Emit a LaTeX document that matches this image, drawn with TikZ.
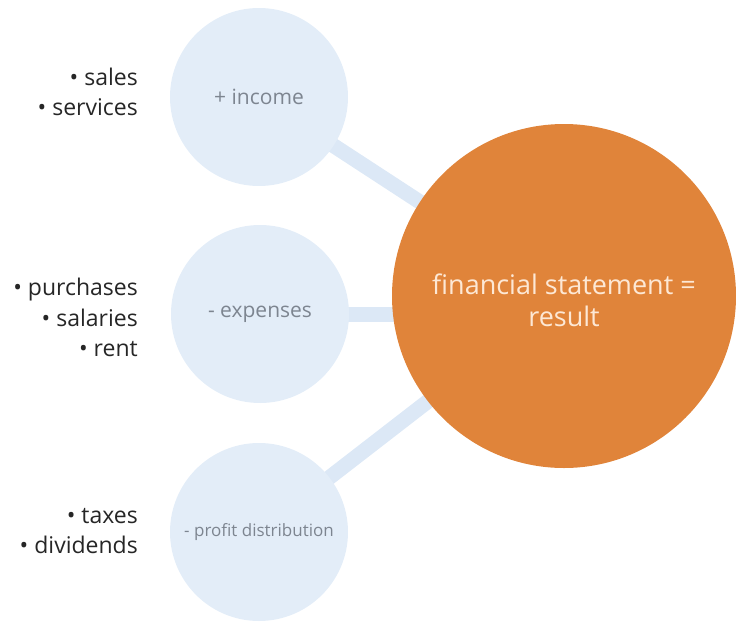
\documentclass[tikz,border=0pt]{standalone}
\usepackage{fontspec}
\setmainfont{Open Sans}
\usetikzlibrary{backgrounds}
\definecolor{paleblue}{HTML}{E3EDF8}
\definecolor{linkblue}{HTML}{DCE8F6}
\definecolor{resultorange}{HTML}{E0843A}
\definecolor{resulttext}{HTML}{FDE8D5}
\definecolor{labelgray}{HTML}{7D8590}
\tikzstyle{part}=[circle,fill=paleblue,minimum size=178pt,inner sep=0pt,text=labelgray]
\tikzstyle{result}=[circle,fill=resultorange,minimum size=344pt,inner sep=0pt,text=resulttext,align=center,font=\fontsize{27}{32}\selectfont]
\tikzstyle{item}=[anchor=base east,inner sep=0pt,text=black!85,font=\fontsize{23}{28}\selectfont]
\tikzstyle{link}=[line width=15pt,draw=linkblue]

\begin{document}
\begin{tikzpicture}[x=1pt,y=-1pt]
\useasboundingbox (0,0) rectangle (736,624);

%Result
    \node[result] (res) at (564,296) {\rule{0pt}{30pt}financial statement =\\result};

%Parts of the result
    \foreach \pos/\name/\size/\label in {{(259,97)/inc/21/+ income}, {(260,314)/exp/21/- expenses}, {(259,532)/dist/17/- profit distribution}}
        \node[part,font=\fontsize{\size}{\size}\selectfont] (\name) at \pos {\label};

%Items
    \foreach \y/\name/\label in {85/sales/sales, 115/serv/services, 295/purch/purchases, 326/sal/salaries, 356/rent/rent, 523/tax/taxes, 553/div/dividends}
        \node[item] (\name) at (138,\y) {• \label};

%Links
  \begin{scope}[on background layer]
  \foreach \source in {inc, dist}
          \draw[link] (\source.center) -- (res.center);
  \draw[link] (exp.center) -- (exp.center -| res.center);
  \end{scope}

\end{tikzpicture}
\end{document}
